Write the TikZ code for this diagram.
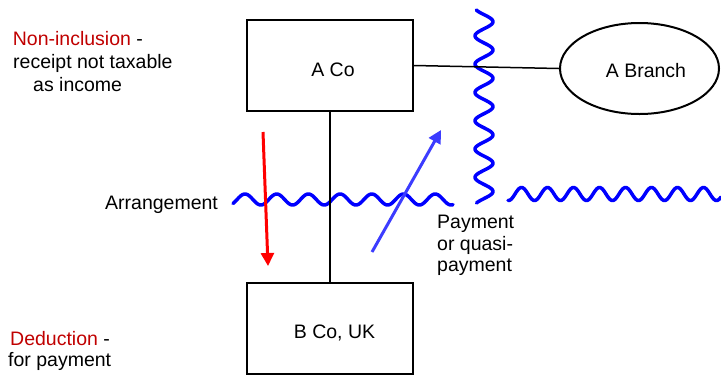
\documentclass[tikz,border=0pt]{standalone}
\usepackage{fontspec}
\setmainfont{Liberation Sans}
\usetikzlibrary{shapes.geometric,arrows.meta}
\definecolor{dred}{RGB}{192,0,0}
\definecolor{wblue}{RGB}{0,0,255}
\definecolor{ablue}{RGB}{60,60,255}
\begin{document}
\begin{tikzpicture}[x=1pt,y=-1pt,
  font=\fontsize{19.5pt}{22pt}\selectfont,
  box/.style={draw, line width=2pt, minimum width=166pt, minimum height=91pt, inner sep=0pt},
  oval/.style={draw, ellipse, line width=2pt, minimum width=159pt, minimum height=91pt, inner sep=0pt},
  wave/.style={draw=wblue, line width=3.5pt, line cap=round, line join=round},
  conn/.style={draw, line width=1.5pt},
  txt/.style={anchor=base west, inner sep=0pt},
  ctxt/.style={anchor=base, inner sep=0pt},
  redarrow/.style={draw=red, line width=3pt, -{Triangle[length=13pt,width=13pt]}},
  bluearrow/.style={draw=ablue, line width=3pt, -{Triangle[length=13pt,width=13pt]}}]
\useasboundingbox (0,0) rectangle (721,376);

% wavy boundaries
\draw[wave] plot[domain=233:453, samples=220] (\x, {199.5 - 5.5*cos(11.356*(\x-245))});
\draw[wave] plot[domain=508:721, samples=220] (\x, {194 - 6.5*cos(13.846*(\x-521.5))});
\draw[wave] plot[domain=10:203, samples=220] ({484 + 9*cos(12.721*(\x-21.7))}, \x);

% entities
\node[box] (aco) at (330,65.5) {};
\node[box] (bco) at (330,328.5) {};
\node[oval] (br) at (639.5,68.5) {};
\node[ctxt] (acot) at (333,76) {A Co};
\node[ctxt] (bcot) at (334.5,338.7) {B Co, UK};
\node[ctxt] (brt) at (646,77.3) {A Branch};

% connectors
\draw[conn] (aco.south) -- (bco.north);
\draw[conn] (aco.east) -- (br.west);

% arrows
\coordinate (r1) at (263,132);
\coordinate (r2) at (268,266);
\draw[redarrow] (r1) -- (r2);
\coordinate (b1) at (372,252);
\coordinate (b2) at (441,130);
\draw[bluearrow] (b1) -- (b2);

% texts
\node[txt] (ni1) at (12.7,45.5) {\textcolor{dred}{Non-inclusion} -};
\node[txt] (ni2) at (13,68.5) {receipt not taxable};
\node[txt] (ni3) at (33,91.5) {as income};
\node[txt] (de1) at (10,345) {\textcolor{dred}{Deduction} -};
\node[txt] (de2) at (8,366.5) {for payment};
\node[txt] (arr) at (105,209) {Arrangement};
\node[txt] (p1) at (437,228.3) {Payment};
\node[txt] (p2) at (437,250) {or quasi-};
\node[txt] (p3) at (437,271.7) {payment};
\end{tikzpicture}
\end{document}
